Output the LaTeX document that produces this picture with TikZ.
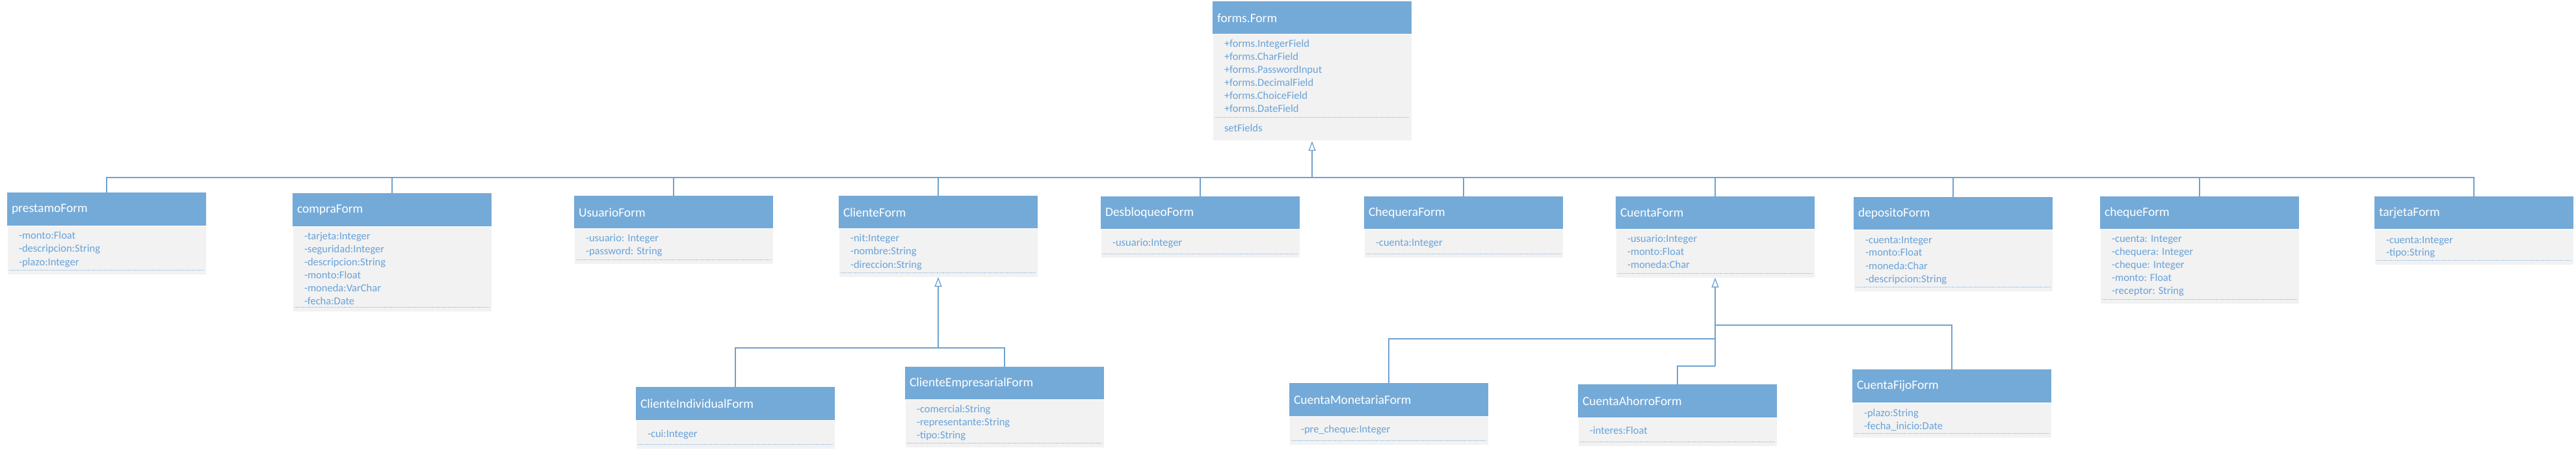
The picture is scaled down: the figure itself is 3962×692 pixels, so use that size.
\documentclass[tikz,border=0pt]{standalone}
\usepackage{fontspec}
\setmainfont{Carlito}
\usetikzlibrary{arrows.meta,calc}
\definecolor{hdrblue}{RGB}{116,170,216}
\definecolor{bodygray}{RGB}{242,242,242}
\definecolor{txtblue}{RGB}{104,162,216}
\definecolor{lineblue}{RGB}{112,162,206}
\definecolor{sepblue}{RGB}{140,185,225}
\tikzset{
  hdr/.style={fill=hdrblue, draw=none, text=white, inner xsep=7pt, inner ysep=0pt, outer sep=0pt,
    minimum width=306pt, text width=292pt, align=left, font=\fontsize{19.5}{22}\selectfont},
  bodybox/.style={fill=bodygray, draw=white, line width=1pt, inner sep=0pt, outer sep=0pt, minimum width=306pt},
  attr/.style={inner sep=0pt, outer sep=0pt, text=txtblue, font=\fontsize{16.5}{20}\selectfont},
  sepline/.style={draw=sepblue, line width=0.8pt, densely dotted},
  conn/.style={draw=lineblue, line width=1.2pt},
  inherit/.style={conn, -{Triangle[open, length=15pt, width=11pt, line width=1.3pt]}}
}
% #1 name, #2 x, #3 top, #4 header bottom, #5 bottom, #6 (unused width), #7 title, #8 first baseline offset, #9 lines
\newcommand\umlclass[9]{%
  \node[hdr, minimum height=#4-#3, anchor=north west] (#1) at (#2,#3) {#7};
  \node[bodybox, minimum height=#5-#4, anchor=north west] (#1-body) at (#2,#4) {};
  \node[attr, anchor=base west] (#1-attrs) at (#2+18,#4+#8) {\parbox[t]{270pt}{\raggedright #9}};
  \draw[sepline] ($(#1-body.south west)+(3,-7)$) -- ($(#1-body.south east)+(-3,-7)$);
}
\begin{document}
\begin{tikzpicture}[x=1pt,y=-1pt]
\useasboundingbox (0,0) rectangle (3962,692);

% root class
\node[hdr, minimum height=51, anchor=north west] (formsform) at (1865,2) {forms.Form};
\node[bodybox, minimum height=164, anchor=north west] (formsform-body) at (1865,53) {};
\node[attr, anchor=base west] (formsform-attrs) at (1883,73) {\parbox[t]{270pt}{\raggedright
+forms.IntegerField\\+forms.CharField\\+forms.PasswordInput\\+forms.DecimalField\\+forms.ChoiceField\\+forms.DateField}};
\draw[sepline] ($(formsform-body.south west)+(4,-37)$) -- ($(formsform-body.south east)+(-4,-37)$);
\node[attr, anchor=base west] (formsform-ops) at (1883,203) {setFields};

% first level
\umlclass{prestamo}{11}{296}{348}{422}{306}{prestamoForm}{20}{-monto:Float\\-descripcion:String\\-plazo:Integer}
\umlclass{compra}{450}{297}{349}{479}{306}{compraForm}{20}{-tarjeta:Integer\\-seguridad:Integer\\-descripcion:String\\-monto:Float\\-moneda:VarChar\\-fecha:Date}
\umlclass{usuario}{883}{301}{352}{406}{306}{UsuarioForm}{20}{-usuario: Integer\\-password: String}
\umlclass{cliente}{1290}{301}{352}{426}{306}{ClienteForm}{20}{-nit:Integer\\-nombre:String\\-direccion:String}
\umlclass{desbloqueo}{1693}{302}{353}{397}{306}{DesbloqueoForm}{25}{-usuario:Integer}
\umlclass{chequera}{2098}{302}{353}{397}{306}{ChequeraForm}{25}{-cuenta:Integer}
\umlclass{cuenta}{2485}{302}{353}{427}{306}{CuentaForm}{20}{-usuario:Integer\\-monto:Float\\-moneda:Char}
\umlclass{deposito}{2851}{303}{354}{448}{306}{depositoForm}{20}{-cuenta:Integer\\-monto:Float\\-moneda:Char\\-descripcion:String}
\umlclass{cheque}{3230}{302}{353}{467}{306}{chequeForm}{20}{-cuenta: Integer\\-chequera: Integer\\-cheque: Integer\\-monto: Float\\-receptor: String}
\umlclass{tarjeta}{3652}{302}{353}{407}{306}{tarjetaForm}{21}{-cuenta:Integer\\-tipo:String}

% second level
\umlclass{cind}{978}{595}{646}{690}{306}{ClienteIndividualForm}{26}{-cui:Integer}
\umlclass{cemp}{1392}{564}{614}{688}{306}{ClienteEmpresarialForm}{20}{-comercial:String\\-representante:String\\-tipo:String}
\umlclass{cmon}{1983}{589}{640}{684}{306}{CuentaMonetariaForm}{25}{-pre\_cheque:Integer}
\umlclass{cahorro}{2427}{591}{642}{686}{306}{CuentaAhorroForm}{25}{-interes:Float}
\umlclass{cfijo}{2849}{568}{619}{673}{306}{CuentaFijoForm}{21}{-plazo:String\\-fecha\_inicio:Date}

% connectors to forms.Form
\coordinate (hub) at (2018,273);
\foreach \n in {prestamo,compra,usuario,cliente,desbloqueo,chequera,cuenta,deposito,cheque,tarjeta}
  \draw[conn] (\n.north) |- (hub);
\draw[inherit] (hub) -- (formsform-body.south);

% connectors to ClienteForm
\coordinate (cjoin) at (1443,535);
\draw[conn] (cind.north) |- (cjoin);
\draw[conn] (cemp.north) |- (cjoin);
\draw[inherit] (cjoin) -- (cliente-body.south);

% connectors to CuentaForm
\coordinate (ujoin) at (2638,563);
\coordinate (ujoinA) at (2638,521);
\coordinate (ujoinB) at (2638,500);
\draw[conn] (cahorro.north) |- (ujoin);
\draw[conn] (cmon.north) |- (ujoinA);
\draw[conn] (cfijo.north) |- (ujoinB);
\draw[inherit] (ujoin) -- (cuenta-body.south);
\end{tikzpicture}
\end{document}
